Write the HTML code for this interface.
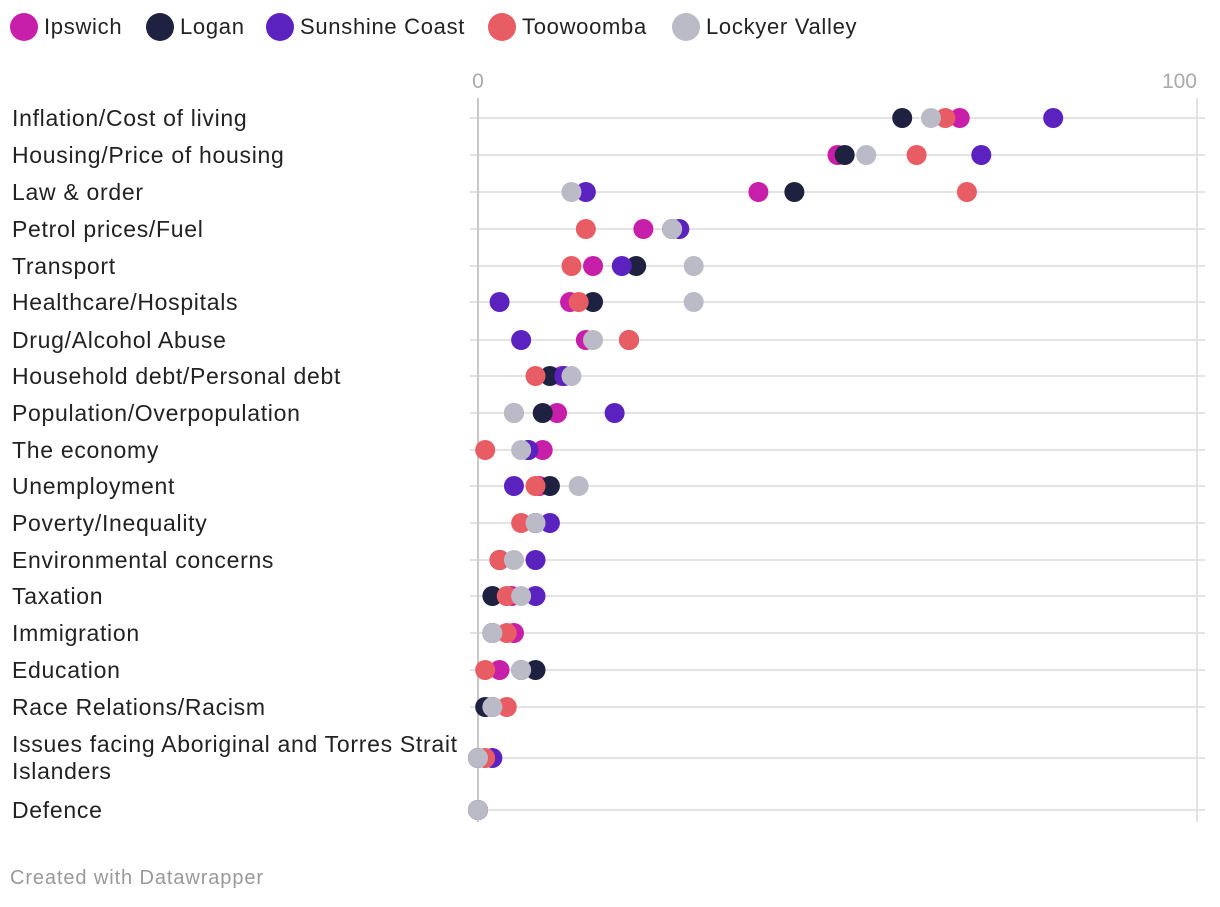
<!DOCTYPE html>
<html><head><meta charset="utf-8"><style>
body{margin:0;background:#fff;font-family:"Liberation Sans",Roboto,sans-serif;}
svg text{font-family:"Liberation Sans",sans-serif;}
</style></head><body>
<svg id="chart" width="1220" height="902" xmlns="http://www.w3.org/2000/svg">
<g id="legend"></g>
<g id="grid"></g>
<g id="labels"></g>
<g id="dots"></g>
<text x="10" y="884" font-size="20" letter-spacing="0.9" fill="#999">Created with Datawrapper</text>
</svg>
<script>
const categories=["Inflation/Cost of living","Housing/Price of housing","Law & order","Petrol prices/Fuel","Transport","Healthcare/Hospitals","Drug/Alcohol Abuse","Household debt/Personal debt","Population/Overpopulation","The economy","Unemployment","Poverty/Inequality","Environmental concerns","Taxation","Immigration","Education","Race Relations/Racism","Issues facing Aboriginal and Torres Strait Islanders","Defence"];
const seriesNames=["Ipswich","Logan","Sunshine Coast","Toowoomba","Lockyer Valley"];
const ipswich=[67,50,39,23,16,12.8,15,11.7,11,9,8.5,8,3,4.7,5,3,2,0,0];
const logan=[59,51,44,27,22,16,21,10,9,7,10,8,3,2,2,8,1,0,0];
const sunshine=[80,70,15,28,20,3,6,12,19,7,5,10,8,8,2,6,2,2,0];
const toowoomba=[65,61,68,15,13,14,21,8,5,1,8,6,3,4,4,1,4,1,0];
const lockyer=[63,54,13,27,30,30,16,13,5,6,14,8,5,6,2,6,2,0,0];
const ticks=[0,100];
const colors=["#c71fa9","#1e2140","#5b22c0","#e85c64","#bbbbc7"];
const series=[ipswich,logan,sunshine,toowoomba,lockyer];
const NS="http://www.w3.org/2000/svg";
const x=v=>478+v*7.19;
const rowY=[118,155,192,229,266,302,340,376,413,450,486,523,560,596,633,670,707,758,810];
const y=i=>rowY[i];
function mk(tag,attrs,parent){const e=document.createElementNS(NS,tag);for(const k in attrs)e.setAttribute(k,attrs[k]);parent.appendChild(e);return e;}
const lg=document.getElementById('legend');
let lx=10;
const legW=[136,120,222,184,180];
seriesNames.forEach((n,i)=>{
  const c=mk('circle',{cx:lx+14,cy:27,r:14,fill:colors[i]},lg);
  
  
  const t=mk('text',{x:lx+34,y:34,'font-size':22,'letter-spacing':0.7,fill:'#222'},lg);t.textContent=n;
  
  
  lx+=legW[i];
});
const g=document.getElementById('grid');
categories.forEach((c,i)=>{
  const l=mk('line',{x1:470,x2:1205,y1:y(i),y2:y(i),stroke:'#e3e3e3','stroke-width':2},g);
  
  
});
ticks.forEach((t,i)=>{
  const l=mk('line',{x1:x(t),x2:x(t),y1:98,y2:822,stroke:t===0?'#c8c8c8':'#e3e3e3','stroke-width':2},g);
  
  
  const tx=mk('text',{x:x(t),y:88,'font-size':21,fill:'#aaa','text-anchor':t===0?'middle':'end'},g);
  tx.textContent=t;
  
  
});
const lb=document.getElementById('labels');
categories.forEach((c,i)=>{
  const t=mk('text',{x:12,y:y(i)+8,'font-size':23,'letter-spacing':0.7,fill:'#222'},lb);
  if(c.startsWith('Issues')){
    t.setAttribute('y',y(i)-6);
    const a=mk('tspan',{x:12},t);a.textContent='Issues facing Aboriginal and Torres Strait';
    const b=mk('tspan',{x:12,dy:27},t);b.textContent='Islanders';
  } else t.textContent=c;
  
  
});
const d=document.getElementById('dots');
series.forEach((s,si)=>{
  s.forEach((v,i)=>{
    const c=mk('circle',{cx:x(v),cy:y(i),r:10,fill:colors[si]},d);
    
    
  });
});
</script>
</body></html>
